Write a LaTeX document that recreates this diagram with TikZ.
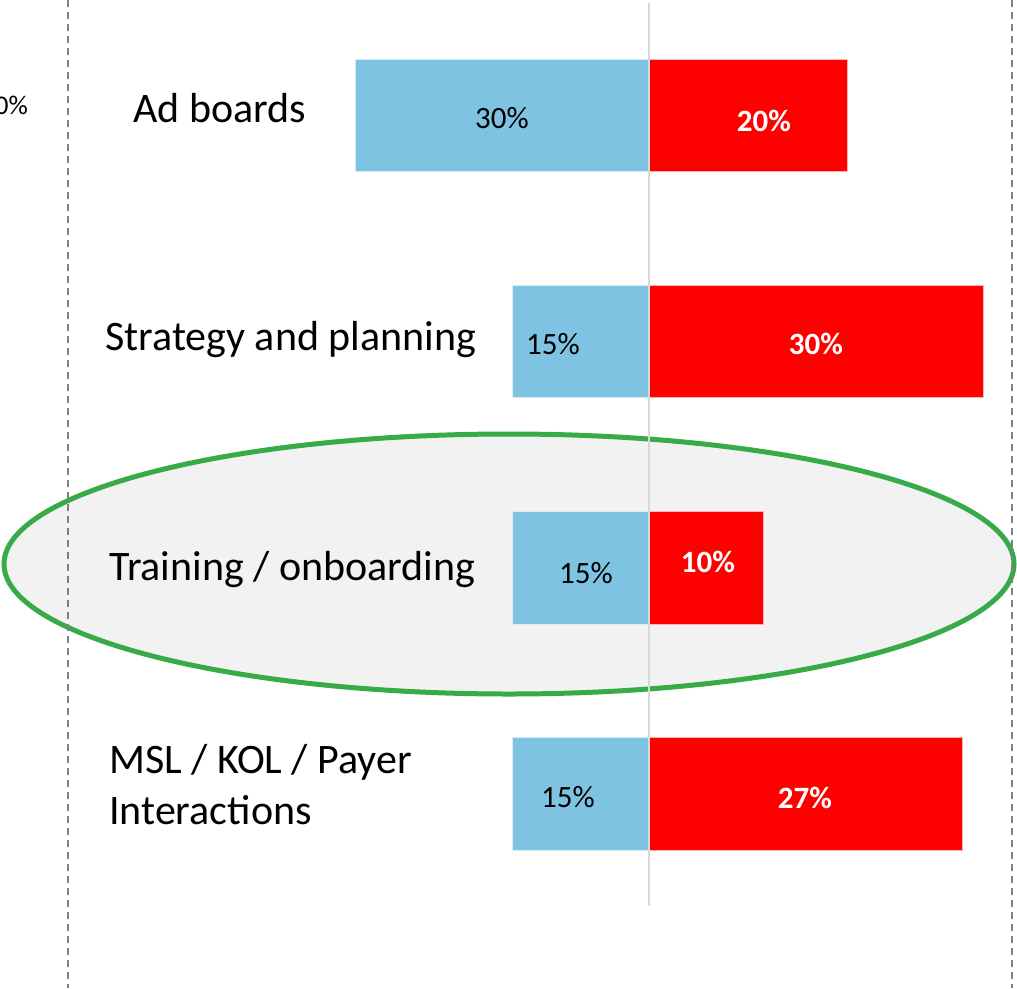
\documentclass[tikz,border=0pt]{standalone}
\usepackage{fontspec}
\setmainfont{Carlito}
\definecolor{barblue}{HTML}{7EC3E1}
\definecolor{barred}{HTML}{FF0000}
\definecolor{ringgreen}{HTML}{37AB47}
\definecolor{ringfill}{HTML}{F2F2F2}
\definecolor{axisgray}{HTML}{D9D9D9}
\definecolor{dashgray}{HTML}{7F7F7F}
\tikzset{
  lbl/.style={anchor=base west, inner sep=0pt, font=\fontsize{42}{51}\selectfont, text=black},
  pctb/.style={anchor=base, inner sep=0pt, font=\fontsize{31}{36}\selectfont, text=black},
  pctr/.style={anchor=base, inner sep=0pt, font=\fontsize{31}{36}\selectfont\bfseries, text=white},
  bluebar/.style={fill=barblue, draw=white!70!barblue, line width=0.8pt},
  redbar/.style={fill=barred, draw=white!70!barred, line width=0.8pt},
  divider/.style={draw=dashgray, line width=2.4pt, dash pattern=on 7pt off 5pt},
  axisline/.style={draw=axisgray, line width=2pt},
  ring/.style={draw=ringgreen, fill=ringfill, line width=5pt}
}
\begin{document}
\begin{tikzpicture}[x=1pt,y=-1pt]
\useasboundingbox (0,0) rectangle (1017,988);
\clip (0,0) rectangle (1017,988);
% highlight ellipse
\path[ring] (509,564) ellipse [x radius=505, y radius=130];
% bars
\path[bluebar] (355,59) rectangle (649,171);
\path[redbar] (649,59) rectangle (847,171);
\path[bluebar] (512,285) rectangle (649,397);
\path[redbar] (649,285) rectangle (983,397);
\path[bluebar] (512,511) rectangle (649,624);
\path[redbar] (649,511) rectangle (763,624);
\path[bluebar] (512,737) rectangle (649,850);
\path[redbar] (649,737) rectangle (962,850);
% axis and dividers
\coordinate (axtop) at (649,3);
\coordinate (axbot) at (649,906);
\draw[axisline] (axtop) -- (axbot);
\coordinate (dl1) at (68,0);
\coordinate (dl2) at (68,988);
\coordinate (dr1) at (1012,0);
\coordinate (dr2) at (1012,988);
\draw[divider] (dl1) -- (dl2);
\draw[divider] (dr1) -- (dr2);
% left cut-off label
\node[anchor=base east, inner sep=0pt, font=\fontsize{27}{32}\selectfont] (cut) at (28,114) {0\%};
% row labels
\node[lbl] (l1) at (133,122) {Ad boards};
\node[lbl] (l2) at (105,350) {Strategy and planning};
\node[lbl] (l3) at (109,580) {Training / onboarding};
\node[lbl] (l4a) at (109,773) {MSL / KOL / Payer};
\node[lbl] (l4b) at (109,824) {Interactions};
% values
\node[pctb] (b1) at (502,128) {30\%};
\node[pctr] (r1) at (764,131) {20\%};
\node[pctb] (b2) at (553,354) {15\%};
\node[pctr] (r2) at (816,354) {30\%};
\node[pctb] (b3) at (586,583) {15\%};
\node[pctr] (r3) at (708,572) {10\%};
\node[pctb] (b4) at (568,807) {15\%};
\node[pctr] (r4) at (805,808) {27\%};
\end{tikzpicture}
\end{document}
